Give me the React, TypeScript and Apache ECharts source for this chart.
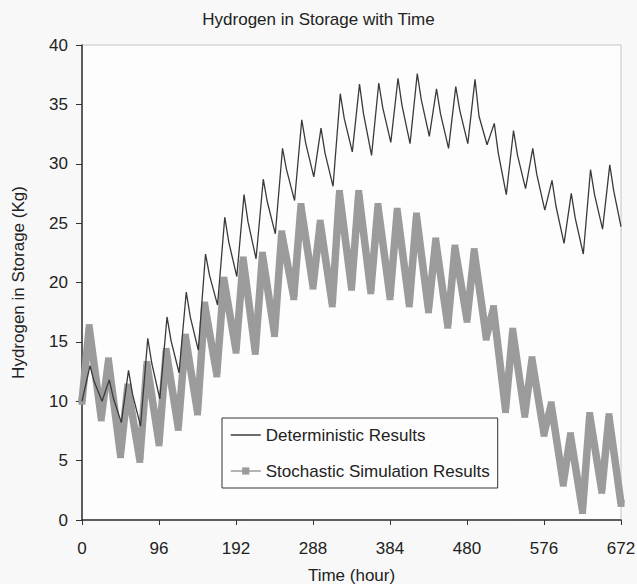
import React, { useEffect, useRef } from "react";
import * as echarts from "echarts";

// Axis
const X_MAX = 672;
const X_INTERVAL = 96;
const Y_MAX = 40;
const Y_INTERVAL = 5;

// Deterministic results (kg), one entry per day (28 days)
// trough near hour 1 of the day (day 0: hour 0), peak near hour 10, shoulder near hour 15
const detTrough = [10.0, 10.0, 8.2, 7.9, 10.2, 12.4, 14.3, 18.1, 20.5, 22.0, 24.1, 26.9, 28.9, 28.1, 31.0, 30.7, 31.8, 31.7, 32.3, 31.3, 31.7, 31.6, 27.4, 27.9, 26.1, 23.3, 22.4, 24.5];
const detPeak = [13.0, 11.8, 12.6, 15.3, 17.1, 19.2, 22.4, 25.5, 27.4, 28.7, 31.3, 33.7, 33.0, 35.9, 36.7, 36.8, 37.2, 37.6, 36.3, 36.5, 37.1, 33.4, 32.8, 31.3, 28.6, 27.5, 29.5, 29.9];
const detShoulder = [11.7, 10.3, 10.6, 13.2, 15.1, 17.1, 20.6, 23.4, 25.1, 26.8, 29.5, 31.7, 30.9, 33.8, 34.2, 34.7, 34.9, 35.4, 34.2, 34.5, 34.0, 30.9, 30.7, 29.1, 26.4, 25.4, 27.4, 27.7];
const detEnd = 24.7;
const detHourTrough = 1;
const detHourPeak = 10;
const detHourShoulder = 15;

// Stochastic simulation results (kg), per day: trough near hour 0, peak near hour 9
const stoTrough = [10.0, 8.6, 5.5, 5.1, 6.5, 7.8, 9.1, 12.3, 14.3, 14.2, 15.7, 18.8, 19.7, 18.2, 19.6, 19.3, 18.8, 18.2, 17.7, 16.4, 16.9, 15.4, 9.3, 8.9, 7.3, 3.1, 0.8, 2.5];
const stoPeak = [16.2, 13.4, 11.2, 13.1, 14.2, 15.4, 18.1, 20.2, 21.9, 22.3, 24.1, 26.4, 25.0, 27.5, 27.5, 26.4, 26.0, 25.6, 23.5, 22.9, 22.6, 17.8, 15.9, 13.5, 9.7, 7.1, 8.8, 8.7];
const stoEnd = 1.4;
const stoHourPeak = 9;

const HOURS_PER_DAY = 24;
const FONT = "'Liberation Sans', Arial, Helvetica, sans-serif";

function buildDet(): number[][] {
  const out: number[][] = [];
  detPeak.forEach((p, d) => {
    const base = d * HOURS_PER_DAY;
    out.push([base + (d === 0 ? 0 : detHourTrough), detTrough[d]]);
    out.push([base + detHourPeak, p]);
    out.push([base + detHourShoulder, detShoulder[d]]);
  });
  out.push([X_MAX, detEnd]);
  return out;
}

function buildSto(): number[][] {
  const out: number[][] = [];
  stoPeak.forEach((p, d) => {
    const base = d * HOURS_PER_DAY;
    out.push([base, stoTrough[d]]);
    out.push([base + stoHourPeak, p]);
  });
  out.push([X_MAX, stoEnd]);
  return out;
}

export default function App() {
  const ref = useRef<HTMLDivElement>(null);
  useEffect(() => {
    if (!ref.current) return;
    const chart = echarts.init(ref.current, undefined, { renderer: "svg" });
    const stoColor = "#9b9b9b";
    const detColor = "#3a3a3a";
    chart.setOption({
      animation: false,
      backgroundColor: "#f8f8f8",
      textStyle: { fontFamily: FONT },
      title: {
        text: "Hydrogen in Storage with Time",
        left: "center",
        top: 6,
        textStyle: { fontFamily: FONT, fontSize: 17, fontWeight: "normal", color: "#222" },
      },
      grid: {
        left: 82,
        right: 16,
        top: 45,
        bottom: 64,
        containLabel: false,
        outerBoundsMode: "none",
        show: true,
        backgroundColor: "#fdfdfd",
        borderColor: "#c4c4c4",
        borderWidth: 1,
      },
      legend: {
        orient: "vertical",
        left: 222,
        top: 418,
        itemWidth: 30,
        itemHeight: 9,
        itemGap: 16,
        padding: [7, 8, 7, 8],
        borderColor: "#333",
        borderWidth: 1,
        backgroundColor: "#fdfdfd",
        textStyle: { fontFamily: FONT, fontSize: 17, color: "#222", lineHeight: 20 },
        data: [
          { name: "Deterministic Results", lineStyle: { width: 1.5 }, itemStyle: { opacity: 0 } },
          { name: "Stochastic Simulation Results", lineStyle: { width: 1.5 } },
        ],
      },
      xAxis: {
        type: "value",
        min: 0,
        max: X_MAX,
        interval: X_INTERVAL,
        name: "Time (hour)",
        nameLocation: "middle",
        nameGap: 47,
        nameTextStyle: { fontFamily: FONT, fontSize: 17, color: "#222" },
        axisLine: { lineStyle: { color: "#333", width: 1.5 } },
        axisTick: { show: true, length: 5, lineStyle: { color: "#333" } },
        axisLabel: { fontFamily: FONT, fontSize: 17, color: "#222", margin: 20 },
        splitLine: { show: false },
      },
      yAxis: {
        type: "value",
        min: 0,
        max: Y_MAX,
        interval: Y_INTERVAL,
        name: "Hydrogen in Storage (Kg)",
        nameLocation: "middle",
        nameGap: 55,
        nameTextStyle: { fontFamily: FONT, fontSize: 17, color: "#222" },
        axisLine: { show: true, lineStyle: { color: "#333", width: 1.5 } },
        axisTick: { show: true, length: 6, lineStyle: { color: "#333" } },
        axisLabel: { fontFamily: FONT, fontSize: 17, color: "#222", margin: 14 },
        splitLine: { show: false },
      },
      series: [
        {
          name: "Stochastic Simulation Results",
          type: "line",
          data: buildSto(),
          symbol: "rect",
          symbolSize: 7,
          showSymbol: true,
          z: 2,
          itemStyle: { color: stoColor },
          lineStyle: { color: stoColor, width: 7.5, join: "bevel" },
        },
        {
          name: "Deterministic Results",
          type: "line",
          data: buildDet(),
          symbol: "none",
          z: 3,
          itemStyle: { color: detColor },
          lineStyle: { color: detColor, width: 1.3 },
        },
      ],
    });
    return () => chart.dispose();
  }, []);
  return (
    <div
      ref={ref}
      style={{ position: "fixed", left: 0, top: 0, width: 637, height: 584 }}
    />
  );
}
